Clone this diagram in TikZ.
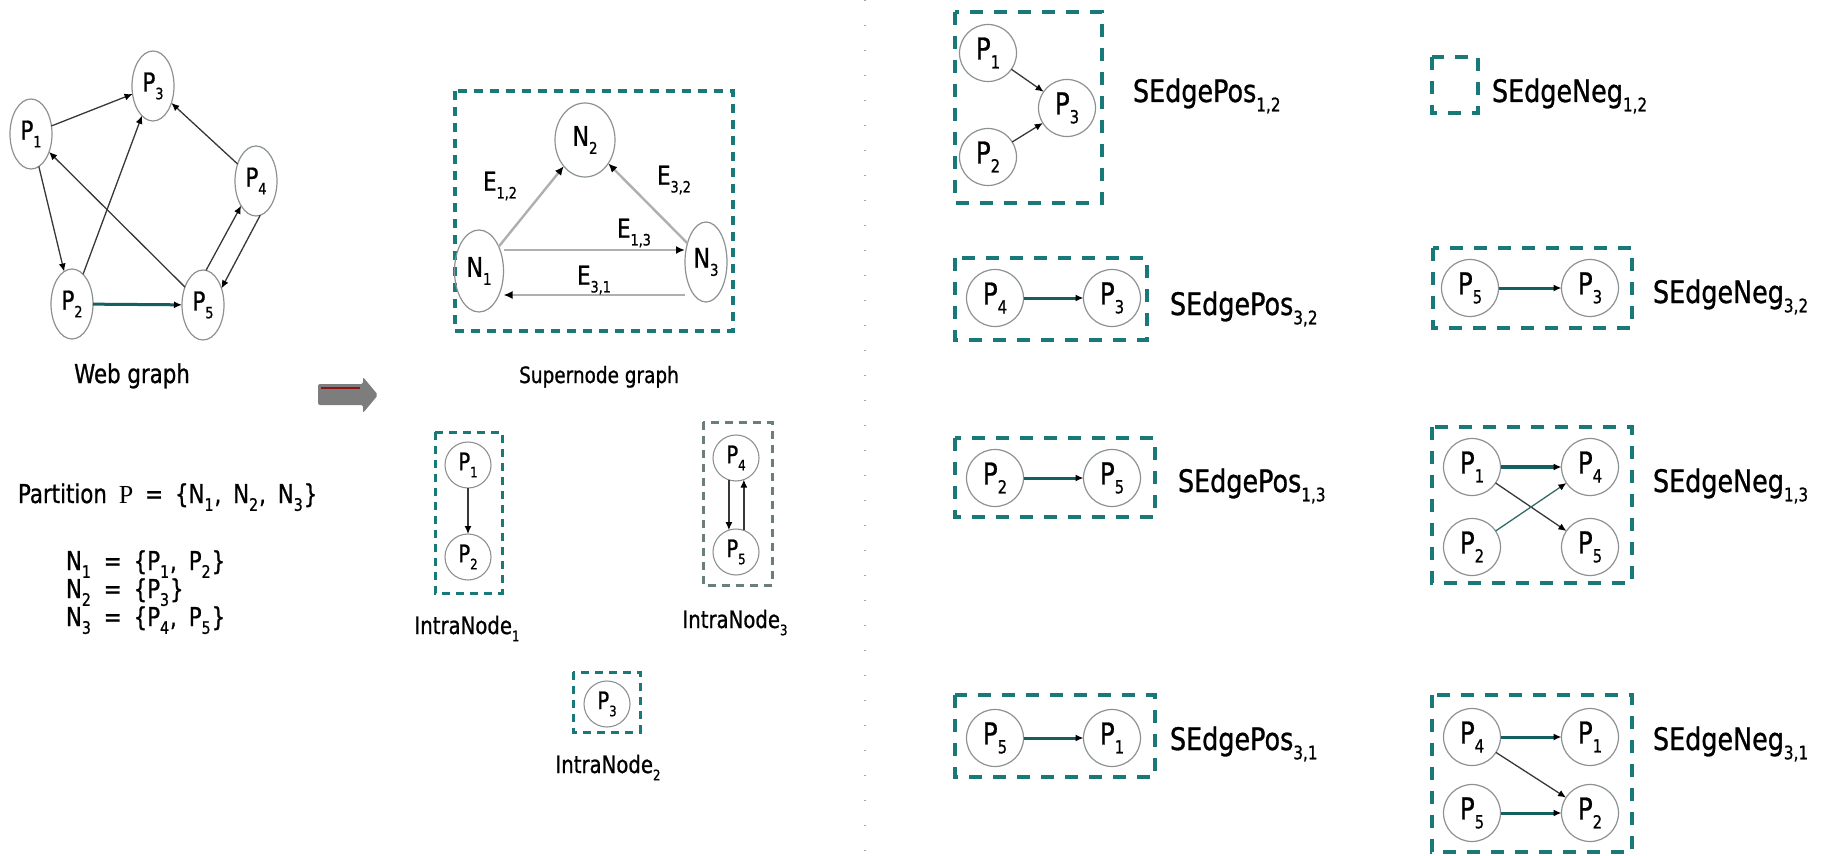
\documentclass[tikz,border=0pt]{standalone}
\usepackage{fontspec}
\usepackage{graphicx}
\setmainfont{DejaVu Sans}[FakeStretch=0.82,FakeBold=0.9]
\newfontfamily\serifP{Liberation Serif}
\usetikzlibrary{arrows.meta,shapes.geometric}

\definecolor{boxteal}{RGB}{25,120,120}
\definecolor{ringgray}{RGB}{140,146,146}
\definecolor{edgedark}{RGB}{55,55,55}
\definecolor{edgeteal}{RGB}{20,95,95}
\definecolor{supergray}{RGB}{175,175,175}
\definecolor{arrowgray}{RGB}{125,125,125}
\definecolor{arrowred}{RGB}{140,20,20}
\definecolor{dotgray}{RGB}{165,165,165}

% lowered small index after a letter
\newcommand\subi[1]{\raisebox{-0.3em}{\scalebox{0.6}{#1}}}
% wider index used in the partition formulas
\newcommand\subw[1]{\raisebox{-0.3em}{\scalebox{0.66}{#1}}\kern1pt\relax}
% wider word spacing for the partition formulas
\newcommand\widesp{\spaceskip=0.46em\relax}

\begin{document}
\begin{tikzpicture}[x=1pt,y=-1pt,
  every node/.style={inner sep=0pt, outer sep=0pt},
  wnode/.style={ellipse, draw=ringgray, line width=1.2pt, minimum width=42pt, minimum height=70pt, font=\fontsize{26}{28}\selectfont},
  snode/.style={ellipse, draw=ringgray, line width=1.2pt, font=\fontsize{27}{29}\selectfont},
  pnode/.style={circle, draw=ringgray, line width=1.2pt, minimum size=57pt, font=\fontsize{30}{32}\selectfont},
  inode/.style={circle, draw=ringgray, line width=1.1pt, minimum size=46pt, font=\fontsize{24}{26}\selectfont},
  link/.style={draw=edgedark, line width=1.3pt, -{Latex[length=8pt,width=7pt,color=black]}},
  slink/.style={draw=supergray, line width=2.4pt, -{Latex[length=9pt,width=8pt,color=black]}},
  heavy/.style={draw=edgeteal, line width=3pt, -{Latex[length=8pt,width=7pt,color=black]}},
  bigbox/.style={draw=boxteal, line width=4.5pt, dash pattern=on 13pt off 11pt},
  midbox/.style={draw=boxteal, line width=3.2pt, dash pattern=on 9pt off 7pt},
  smallbox/.style={draw=boxteal, line width=3pt, dash pattern=on 8pt off 6pt},
  elabel/.style={font=\fontsize{26}{28}\selectfont},
  caption/.style={anchor=base, font=\fontsize{24}{26}\selectfont},
  setlabel/.style={anchor=base west, font=\fontsize{31}{33}\selectfont},
  textline/.style={anchor=base west, font=\fontsize{26}{28}\selectfont},
]
\useasboundingbox (0,0) rectangle (1829,856);

% ---------- web graph ----------
\node[wnode] (w1) at (31,134) {P\subi{1}};
\node[wnode] (w3) at (153,86) {P\subi{3}};
\node[wnode] (w4) at (256,181) {P\subi{4}};
\node[wnode] (w2) at (72,304) {P\subi{2}};
\node[wnode] (w5) at (203,305) {P\subi{5}};
\draw[link] (w1) -- (w3);
\draw[link] (w2) -- (w3);
\draw[link] (w4) -- (w3);
\draw[link] (w1) -- (w2);
\draw[link] (w5) -- (w1);
\draw[heavy] (w2) -- (w5);
\draw[link] (w5.85) -- (w4.239);
\draw[link] (w4.277) -- (w5.42);
\node[caption, font=\fontsize{26}{28}\selectfont] (wcap) at (132,383) {Web graph};

% ---------- partition ----------
\node[textline] (part) at (18,503) {\widesp Partition {\serifP P} = \{N\subw{1}, N\subw{2}, N\subw{3}\}};
\node[textline] (n1set) at (66,570) {\widesp N\subw{1} = \{P\subw{1}, P\subw{2}\}};
\node[textline] (n2set) at (66,598) {\widesp N\subw{2} = \{P\subw{3}\}};
\node[textline] (n3set) at (66,626) {\widesp N\subw{3} = \{P\subw{4}, P\subw{5}\}};

% ---------- block arrow ----------
\fill[arrowgray, rounded corners=2pt] (318,384) -- (363,384) -- (363,377) -- (378,395)
  -- (363,413) -- (363,405) -- (318,405) -- cycle;
\draw[arrowred, line width=2.5pt] (321,388) -- (360,388);

% ---------- supernode graph ----------
\draw[midbox] (455,91) rectangle (733,331);
\node[snode, minimum width=60pt, minimum height=74pt] (sn2) at (585,140) {N\subi{2}};
\node[snode, minimum width=49pt, minimum height=82pt] (sn1) at (479,271) {N\subi{1}};
\node[snode, minimum width=42pt, minimum height=80pt] (sn3) at (706,262) {N\subi{3}};
\draw[slink] (sn1) -- (sn2);
\draw[slink] (sn3) -- (sn2);
\draw[slink] ([yshift=21pt]sn1.east) -- ([yshift=12pt]sn3.west);
\draw[slink] ([yshift=-33pt]sn3.west) -- ([yshift=-24pt]sn1.east);
\node[elabel] (e12) at (500,186) {E\subi{1,2}};
\node[elabel] (e32) at (674,180) {E\subi{3,2}};
\node[elabel] (e13) at (634,233) {E\subi{1,3}};
\node[elabel] (e31) at (594,280) {E\subi{3,1}};
\node[caption, font=\fontsize{22.5}{25}\selectfont] (scap) at (599,383) {Supernode graph};

% ---------- intra-node graphs ----------
\draw[smallbox] (435,432) rectangle (502,593);
\node[inode] (i1a) at (468,465) {P\subi{1}};
\node[inode] (i1b) at (468,557) {P\subi{2}};
\draw[link] (i1a) -- (i1b);
\node[caption] (i1cap) at (467,634) {IntraNode\subi{1}};

\draw[smallbox, draw=gray!80!boxteal] (703,422) rectangle (772,585);
\node[inode] (i3a) at (736,458) {P\subi{4}};
\node[inode] (i3b) at (736,552) {P\subi{5}};
\draw[link] (i3a.252) -- (i3b.108);
\draw[link] (i3b.70) -- (i3a.290);
\node[caption] (i3cap) at (735,628) {IntraNode\subi{3}};

\draw[smallbox] (573,672) rectangle (640,732);
\node[inode] (i2a) at (607,704) {P\subi{3}};
\node[caption] (i2cap) at (608,773) {IntraNode\subi{2}};

% ---------- separator ----------
\draw[dotgray, line width=1.3pt, dash pattern=on 1.3pt off 23.7pt] (865,0) -- (865,856);

% ---------- positive super-edges ----------
\draw[bigbox] (955,12) rectangle (1102,203);
\node[pnode] (a1) at (988,53) {P\subi{1}};
\node[pnode] (a3) at (1067,108) {P\subi{3}};
\node[pnode] (a2) at (988,157) {P\subi{2}};
\draw[link] (a1) -- (a3);
\draw[link] (a2) -- (a3);
\node[setlabel] (la) at (1133,102) {SEdgePos\subi{1,2}};

\draw[bigbox] (955,258) rectangle (1147,340);
\node[pnode] (b4) at (995,298) {P\subi{4}};
\node[pnode] (b3) at (1112,298) {P\subi{3}};
\draw[heavy] (b4) -- (b3);
\node[setlabel] (lb) at (1170,315) {SEdgePos\subi{3,2}};

\draw[bigbox] (955,438) rectangle (1155,517);
\node[pnode] (c2) at (995,478) {P\subi{2}};
\node[pnode] (c5) at (1112,478) {P\subi{5}};
\draw[heavy] (c2) -- (c5);
\node[setlabel] (lc) at (1178,492) {SEdgePos\subi{1,3}};

\draw[bigbox] (955,695) rectangle (1155,777);
\node[pnode] (d5) at (995,738) {P\subi{5}};
\node[pnode] (d1) at (1112,738) {P\subi{1}};
\draw[heavy] (d5) -- (d1);
\node[setlabel] (ld) at (1170,750) {SEdgePos\subi{3,1}};

% ---------- negative super-edges ----------
\draw[bigbox] (1432,57) rectangle (1478,113);
\node[setlabel] (le) at (1492,102) {SEdgeNeg\subi{1,2}};

\draw[bigbox] (1433,248) rectangle (1632,328);
\node[pnode] (f5) at (1470,288) {P\subi{5}};
\node[pnode] (f3) at (1590,288) {P\subi{3}};
\draw[heavy] (f5) -- (f3);
\node[setlabel] (lf) at (1653,303) {SEdgeNeg\subi{3,2}};

\draw[bigbox] (1432,427) rectangle (1632,583);
\node[pnode] (g1) at (1472,467) {P\subi{1}};
\node[pnode] (g4) at (1590,467) {P\subi{4}};
\node[pnode] (g2) at (1472,547) {P\subi{2}};
\node[pnode] (g5) at (1590,547) {P\subi{5}};
\draw[heavy, line width=4pt] (g1) -- (g4);
\draw[link] (g1) -- (g5);
\draw[link, draw=edgeteal!70!gray] (g2) -- (g4);
\node[setlabel] (lg) at (1653,492) {SEdgeNeg\subi{1,3}};

\draw[bigbox] (1432,695) rectangle (1632,852);
\node[pnode] (h4) at (1472,737) {P\subi{4}};
\node[pnode] (h1) at (1590,737) {P\subi{1}};
\node[pnode] (h5) at (1472,813) {P\subi{5}};
\node[pnode] (h2) at (1590,813) {P\subi{2}};
\draw[heavy] (h4) -- (h1);
\draw[link] (h4) -- (h2);
\draw[heavy] (h5) -- (h2);
\node[setlabel] (lh) at (1653,750) {SEdgeNeg\subi{3,1}};
\end{tikzpicture}
\end{document}
